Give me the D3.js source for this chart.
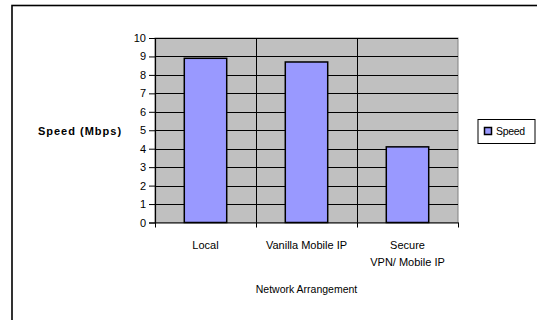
<!DOCTYPE html>
<html><head><meta charset="utf-8">
<script src="https://cdn.jsdelivr.net/npm/d3@7"></script>
<style>body{margin:0;background:#fff;overflow:hidden;}svg{display:block;font-family:"Liberation Sans",Arial,sans-serif;overflow:hidden;}</style>
</head><body>
<svg id="c" width="537" height="320"></svg>
<script>
const categories = ["Local", "Vanilla Mobile IP", "Secure\nVPN/ Mobile IP"];
const speedValues = [8.9, 8.7, 4.1];
const yTicks = [0,1,2,3,4,5,6,7,8,9,10];
const seriesName = "Speed";
const yTitle = "Speed (Mbps)";
const xTitle = "Network Arrangement";

const svg = d3.select("#c");
// outer frame (extends past the right and bottom edges, as in the reference crop)
svg.append("rect").attr("x",12).attr("y",5.5).attr("width",700).attr("height",400)
  .attr("fill","#fff").attr("stroke","#000").attr("stroke-width",1.6);

const L=155, R=458, T=38, B=222.5;
const x = d3.scaleBand().domain(categories).range([L,R]).paddingInner(0).paddingOuter(0);
const y = d3.scaleLinear().domain([0,10]).range([B,T]);

svg.append("rect").attr("x",L).attr("y",T).attr("width",R-L).attr("height",B-T)
  .attr("fill","#c0c0c0").attr("stroke","#808080").attr("stroke-width",1);

// horizontal gridlines
svg.append("g").selectAll("line").data(yTicks.filter(d=>d>0)).join("line")
  .attr("x1",L).attr("x2",R).attr("y1",d=>Math.round(y(d))+0.5).attr("y2",d=>Math.round(y(d))+0.5)
  .attr("stroke","#000").attr("stroke-width",1);
// vertical dividers
svg.append("g").selectAll("line").data(categories.slice(1)).join("line")
  .attr("x1",d=>Math.round(x(d))+0.5).attr("x2",d=>Math.round(x(d))+0.5).attr("y1",T).attr("y2",B)
  .attr("stroke","#000").attr("stroke-width",1);

// bars
const bw = x.bandwidth()*0.42;
svg.append("g").selectAll("rect").data(categories).join("rect")
  .attr("x",(d)=>x(d)+x.bandwidth()/2-bw/2)
  .attr("y",(d,i)=>y(speedValues[i]))
  .attr("width",bw)
  .attr("height",(d,i)=>B-y(speedValues[i]))
  .attr("fill","#9999ff").attr("stroke","#000").attr("stroke-width",1.5);

// y axis
const ya = svg.append("g").attr("transform",`translate(${L},0)`)
  .call(d3.axisLeft(y).tickValues(yTicks).tickSize(6).tickPadding(3).tickFormat(d3.format("d")));
ya.select(".domain").attr("stroke","#000").attr("stroke-width",1.2);
ya.selectAll(".tick line").attr("stroke","#000");
ya.selectAll("text").attr("font-size",11).attr("fill","#000").attr("font-family","Liberation Sans, Arial, sans-serif");

// x axis
const xa = svg.append("g").attr("transform",`translate(0,${B})`)
  .call(d3.axisBottom(x).tickSize(0).tickFormat(""));
xa.select(".domain").attr("stroke","#000").attr("stroke-width",1.2);
// category tick marks at boundaries
svg.append("g").selectAll("line").data([...categories.map(c=>x(c)), R]).join("line")
  .attr("x1",d=>Math.round(d)+0.5).attr("x2",d=>Math.round(d)+0.5).attr("y1",B).attr("y2",B+5)
  .attr("stroke","#000");

// category labels
categories.forEach(c=>{
  const lines=c.split("\n");
  const t=svg.append("text").attr("text-anchor","middle").attr("font-size",11)
    .attr("x",x(c)+x.bandwidth()/2).attr("y",249);
  lines.forEach((ln,i)=>t.append("tspan").attr("x",x(c)+x.bandwidth()/2).attr("dy",i?17:0).text(ln));
});

svg.append("text").attr("x",(L+R)/2).attr("y",293).attr("text-anchor","middle")
  .attr("font-size",10.5).text(xTitle);
svg.append("text").attr("x",80).attr("y",135).attr("text-anchor","middle")
  .attr("font-size",11).attr("font-weight","bold").attr("letter-spacing",1).text(yTitle);

// legend
const lg = svg.append("g");
lg.append("rect").attr("x",478).attr("y",119.5).attr("width",57).attr("height",24)
  .attr("fill","#fff").attr("stroke","#000").attr("stroke-width",1);
lg.append("rect").attr("x",484.5).attr("y",127.5).attr("width",7).attr("height",7)
  .attr("fill","#9999ff").attr("stroke","#000").attr("stroke-width",1.5);
lg.append("text").attr("x",496).attr("y",135).attr("font-size",10.5).attr("letter-spacing",-0.3).text(seriesName);
</script>
</body></html>
